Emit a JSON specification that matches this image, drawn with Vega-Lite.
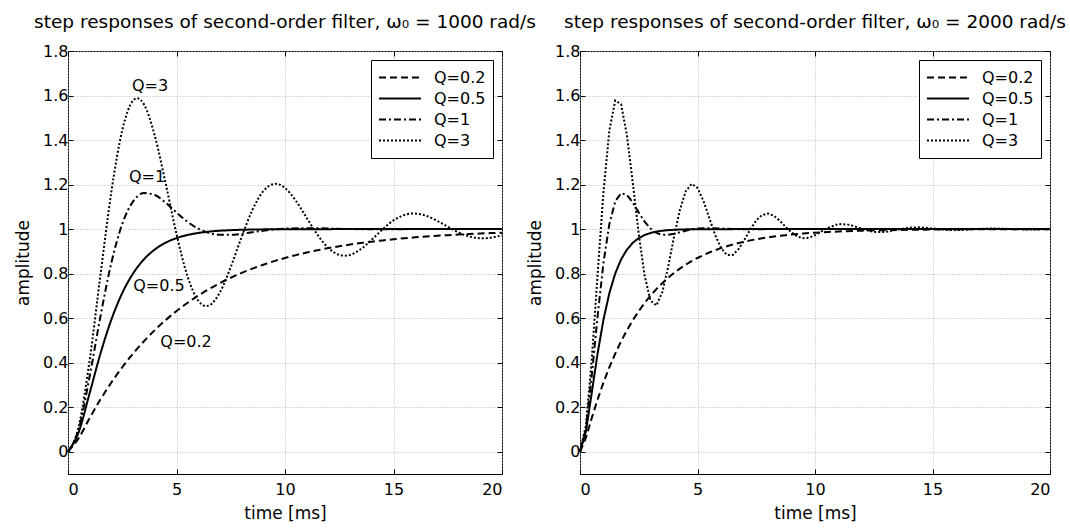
{
"$schema": "https://vega.github.io/schema/vega-lite/v6.json",
"padding": {"left": 14, "top": 12, "right": 2, "bottom": 0},
"spacing": 78,
"bounds": "flush",
"background": "white",
"config": {
  "font": "DejaVu Sans",
  "view": {"stroke": "black", "strokeWidth": 1},
  "axis": {"labelFont": "DejaVu Sans", "labelFontSize": 16, "labelColor": "black", "titleFont": "DejaVu Sans", "titleFontSize": 17, "titleFontWeight": "normal", "titleColor": "black", "domain": false, "tickColor": "black", "tickSize": -5, "gridColor": "#b4b4b4", "gridDash": [1, 2], "gridWidth": 1, "labelPadding": 5},
  "axisX": {"titlePadding": 8, "labelPadding": 12},
  "axisY": {"titlePadding": 10},
  "title": {"font": "DejaVu Sans", "fontSize": 18.5, "fontWeight": "normal", "color": "black", "frame": "group", "anchor": "middle", "offset": 12},
  "legend": {"orient": "top-right", "offset": 9, "strokeColor": "black", "fillColor": "white", "padding": 7, "symbolType": "stroke", "symbolSize": 1764, "symbolStrokeWidth": 2, "symbolStrokeColor": "black", "symbolFillColor": "transparent", "labelFont": "DejaVu Sans", "labelFontSize": 16, "labelColor": "black", "labelOffset": 12, "rowPadding": 0, "clipHeight": 21}
},
"datasets": {
  "left": [
    {"Q":"Q=0.2","t":0,"y":0},{"Q":"Q=0.2","t":0.5,"y":0.0622},{"Q":"Q=0.2","t":1,"y":0.1518},{"Q":"Q=0.2","t":1.5,"y":0.2355},{"Q":"Q=0.2","t":2,"y":0.3113},{"Q":"Q=0.2","t":2.5,"y":0.3795},{"Q":"Q=0.2","t":3,"y":0.4410},{"Q":"Q=0.2","t":3.5,"y":0.4964},{"Q":"Q=0.2","t":4,"y":0.5463},{"Q":"Q=0.2","t":4.5,"y":0.5913},{"Q":"Q=0.2","t":5,"y":0.6318},{"Q":"Q=0.2","t":5.5,"y":0.6683},{"Q":"Q=0.2","t":6,"y":0.7011},{"Q":"Q=0.2","t":6.5,"y":0.7307},{"Q":"Q=0.2","t":7,"y":0.7574},{"Q":"Q=0.2","t":7.5,"y":0.7815},{"Q":"Q=0.2","t":8,"y":0.8031},{"Q":"Q=0.2","t":8.5,"y":0.8226},{"Q":"Q=0.2","t":9,"y":0.8402},{"Q":"Q=0.2","t":9.5,"y":0.8560},{"Q":"Q=0.2","t":10,"y":0.8703},{"Q":"Q=0.2","t":10.5,"y":0.8832},{"Q":"Q=0.2","t":11,"y":0.8947},{"Q":"Q=0.2","t":11.5,"y":0.9052},{"Q":"Q=0.2","t":12,"y":0.9146},{"Q":"Q=0.2","t":12.5,"y":0.9230},{"Q":"Q=0.2","t":13,"y":0.9307},{"Q":"Q=0.2","t":13.5,"y":0.9375},{"Q":"Q=0.2","t":14,"y":0.9437},{"Q":"Q=0.2","t":14.5,"y":0.9493},{"Q":"Q=0.2","t":15,"y":0.9543},{"Q":"Q=0.2","t":15.5,"y":0.9588},{"Q":"Q=0.2","t":16,"y":0.9629},{"Q":"Q=0.2","t":16.5,"y":0.9666},{"Q":"Q=0.2","t":17,"y":0.9699},{"Q":"Q=0.2","t":17.5,"y":0.9729},{"Q":"Q=0.2","t":18,"y":0.9756},{"Q":"Q=0.2","t":18.5,"y":0.9780},{"Q":"Q=0.2","t":19,"y":0.9802},{"Q":"Q=0.2","t":19.5,"y":0.9821},{"Q":"Q=0.2","t":20,"y":0.9839},
    {"Q":"Q=0.5","t":0,"y":0},{"Q":"Q=0.5","t":0.5,"y":0.0902},{"Q":"Q=0.5","t":1,"y":0.2642},{"Q":"Q=0.5","t":1.5,"y":0.4422},{"Q":"Q=0.5","t":2,"y":0.5940},{"Q":"Q=0.5","t":2.5,"y":0.7127},{"Q":"Q=0.5","t":3,"y":0.8009},{"Q":"Q=0.5","t":3.5,"y":0.8641},{"Q":"Q=0.5","t":4,"y":0.9084},{"Q":"Q=0.5","t":4.5,"y":0.9389},{"Q":"Q=0.5","t":5,"y":0.9596},{"Q":"Q=0.5","t":5.5,"y":0.9734},{"Q":"Q=0.5","t":6,"y":0.9826},{"Q":"Q=0.5","t":6.5,"y":0.9887},{"Q":"Q=0.5","t":7,"y":0.9927},{"Q":"Q=0.5","t":7.5,"y":0.9953},{"Q":"Q=0.5","t":8,"y":0.9970},{"Q":"Q=0.5","t":8.5,"y":0.9981},{"Q":"Q=0.5","t":9,"y":0.9988},{"Q":"Q=0.5","t":10,"y":0.9995},{"Q":"Q=0.5","t":12,"y":0.9999},{"Q":"Q=0.5","t":15,"y":1},{"Q":"Q=0.5","t":20,"y":1},
    {"Q":"Q=1","t":0,"y":0},{"Q":"Q=1","t":0.5,"y":0.1044},{"Q":"Q=1","t":1,"y":0.3403},{"Q":"Q=1","t":1.5,"y":0.6105},{"Q":"Q=1","t":2,"y":0.8494},{"Q":"Q=1","t":2.5,"y":1.0234},{"Q":"Q=1","t":3,"y":1.1244},{"Q":"Q=1","t":3.5,"y":1.1617},{"Q":"Q=1","t":4,"y":1.1531},{"Q":"Q=1","t":4.5,"y":1.1184},{"Q":"Q=1","t":5,"y":1.0746},{"Q":"Q=1","t":5.5,"y":1.0336},{"Q":"Q=1","t":6,"y":1.0023},{"Q":"Q=1","t":6.5,"y":0.9828},{"Q":"Q=1","t":7,"y":0.9744},{"Q":"Q=1","t":7.5,"y":0.9742},{"Q":"Q=1","t":8,"y":0.9790},{"Q":"Q=1","t":8.5,"y":0.9860},{"Q":"Q=1","t":9,"y":0.9929},{"Q":"Q=1","t":9.5,"y":0.9985},{"Q":"Q=1","t":10,"y":1.0022},{"Q":"Q=1","t":11,"y":1.0043},{"Q":"Q=1","t":12,"y":1.0026},{"Q":"Q=1","t":13,"y":1.0004},{"Q":"Q=1","t":14,"y":0.9994},{"Q":"Q=1","t":15,"y":0.9996},{"Q":"Q=1","t":16,"y":1},{"Q":"Q=1","t":20,"y":1},
    {"Q":"Q=3","t":0,"y":0},{"Q":"Q=3","t":0.5,"y":0.1159},{"Q":"Q=3","t":1,"y":0.4134},{"Q":"Q=3","t":1.5,"y":0.7975},{"Q":"Q=3","t":2,"y":1.1683},{"Q":"Q=3","t":2.5,"y":1.4443},{"Q":"Q=3","t":3,"y":1.5776},{"Q":"Q=3","t":3.186,"y":1.5880},{"Q":"Q=3","t":3.5,"y":1.5603},{"Q":"Q=3","t":4,"y":1.4192},{"Q":"Q=3","t":4.5,"y":1.2053},{"Q":"Q=3","t":5,"y":0.9779},{"Q":"Q=3","t":5.5,"y":0.7904},{"Q":"Q=3","t":6,"y":0.6790},{"Q":"Q=3","t":6.372,"y":0.6542},{"Q":"Q=3","t":6.5,"y":0.6570},{"Q":"Q=3","t":7,"y":0.7158},{"Q":"Q=3","t":7.5,"y":0.8297},{"Q":"Q=3","t":8,"y":0.9645},{"Q":"Q=3","t":8.5,"y":1.0866},{"Q":"Q=3","t":9,"y":1.1704},{"Q":"Q=3","t":9.5,"y":1.2029},{"Q":"Q=3","t":9.559,"y":1.2033},{"Q":"Q=3","t":10,"y":1.1847},{"Q":"Q=3","t":10.5,"y":1.1276},{"Q":"Q=3","t":11,"y":1.0505},{"Q":"Q=3","t":11.5,"y":0.9739},{"Q":"Q=3","t":12,"y":0.9149},{"Q":"Q=3","t":12.5,"y":0.8841},{"Q":"Q=3","t":12.745,"y":0.8805},{"Q":"Q=3","t":13,"y":0.8842},{"Q":"Q=3","t":13.5,"y":0.9104},{"Q":"Q=3","t":14,"y":0.9528},{"Q":"Q=3","t":14.5,"y":0.9993},{"Q":"Q=3","t":15,"y":1.0389},{"Q":"Q=3","t":15.5,"y":1.0636},{"Q":"Q=3","t":15.931,"y":1.0703},{"Q":"Q=3","t":16,"y":1.0701},{"Q":"Q=3","t":16.5,"y":1.0599},{"Q":"Q=3","t":17,"y":1.0377},{"Q":"Q=3","t":17.5,"y":1.0104},{"Q":"Q=3","t":18,"y":0.9850},{"Q":"Q=3","t":18.5,"y":0.9668},{"Q":"Q=3","t":19,"y":0.9590},{"Q":"Q=3","t":19.117,"y":0.9587},{"Q":"Q=3","t":19.5,"y":0.9615},{"Q":"Q=3","t":20,"y":0.9724}
  ],
  "right": [
    {"Q":"Q=0.2","t":0,"y":0},{"Q":"Q=0.2","t":0.25,"y":0.0622},{"Q":"Q=0.2","t":0.5,"y":0.1518},{"Q":"Q=0.2","t":0.75,"y":0.2355},{"Q":"Q=0.2","t":1,"y":0.3113},{"Q":"Q=0.2","t":1.25,"y":0.3795},{"Q":"Q=0.2","t":1.5,"y":0.4410},{"Q":"Q=0.2","t":1.75,"y":0.4964},{"Q":"Q=0.2","t":2,"y":0.5463},{"Q":"Q=0.2","t":2.25,"y":0.5913},{"Q":"Q=0.2","t":2.5,"y":0.6318},{"Q":"Q=0.2","t":2.75,"y":0.6683},{"Q":"Q=0.2","t":3,"y":0.7011},{"Q":"Q=0.2","t":3.25,"y":0.7307},{"Q":"Q=0.2","t":3.5,"y":0.7574},{"Q":"Q=0.2","t":3.75,"y":0.7815},{"Q":"Q=0.2","t":4,"y":0.8031},{"Q":"Q=0.2","t":4.25,"y":0.8226},{"Q":"Q=0.2","t":4.5,"y":0.8402},{"Q":"Q=0.2","t":4.75,"y":0.8560},{"Q":"Q=0.2","t":5,"y":0.8703},{"Q":"Q=0.2","t":5.25,"y":0.8832},{"Q":"Q=0.2","t":5.5,"y":0.8947},{"Q":"Q=0.2","t":5.75,"y":0.9052},{"Q":"Q=0.2","t":6,"y":0.9146},{"Q":"Q=0.2","t":6.25,"y":0.9230},{"Q":"Q=0.2","t":6.5,"y":0.9307},{"Q":"Q=0.2","t":6.75,"y":0.9375},{"Q":"Q=0.2","t":7,"y":0.9437},{"Q":"Q=0.2","t":7.25,"y":0.9493},{"Q":"Q=0.2","t":7.5,"y":0.9543},{"Q":"Q=0.2","t":7.75,"y":0.9588},{"Q":"Q=0.2","t":8,"y":0.9629},{"Q":"Q=0.2","t":8.25,"y":0.9666},{"Q":"Q=0.2","t":8.5,"y":0.9699},{"Q":"Q=0.2","t":8.75,"y":0.9729},{"Q":"Q=0.2","t":9,"y":0.9756},{"Q":"Q=0.2","t":9.25,"y":0.9780},{"Q":"Q=0.2","t":9.5,"y":0.9802},{"Q":"Q=0.2","t":9.75,"y":0.9821},{"Q":"Q=0.2","t":10,"y":0.9839},{"Q":"Q=0.2","t":11,"y":0.9894},{"Q":"Q=0.2","t":12,"y":0.9930},{"Q":"Q=0.2","t":13,"y":0.9954},{"Q":"Q=0.2","t":14,"y":0.9970},{"Q":"Q=0.2","t":15,"y":0.9980},{"Q":"Q=0.2","t":16,"y":0.9987},{"Q":"Q=0.2","t":17,"y":0.9991},{"Q":"Q=0.2","t":18,"y":0.9994},{"Q":"Q=0.2","t":19,"y":0.9996},{"Q":"Q=0.2","t":20,"y":0.9998},
    {"Q":"Q=0.5","t":0,"y":0},{"Q":"Q=0.5","t":0.25,"y":0.0902},{"Q":"Q=0.5","t":0.5,"y":0.2642},{"Q":"Q=0.5","t":0.75,"y":0.4422},{"Q":"Q=0.5","t":1,"y":0.5940},{"Q":"Q=0.5","t":1.25,"y":0.7127},{"Q":"Q=0.5","t":1.5,"y":0.8009},{"Q":"Q=0.5","t":1.75,"y":0.8641},{"Q":"Q=0.5","t":2,"y":0.9084},{"Q":"Q=0.5","t":2.25,"y":0.9389},{"Q":"Q=0.5","t":2.5,"y":0.9596},{"Q":"Q=0.5","t":2.75,"y":0.9734},{"Q":"Q=0.5","t":3,"y":0.9826},{"Q":"Q=0.5","t":3.25,"y":0.9887},{"Q":"Q=0.5","t":3.5,"y":0.9927},{"Q":"Q=0.5","t":3.75,"y":0.9953},{"Q":"Q=0.5","t":4,"y":0.9970},{"Q":"Q=0.5","t":4.25,"y":0.9981},{"Q":"Q=0.5","t":4.5,"y":0.9988},{"Q":"Q=0.5","t":4.75,"y":0.9992},{"Q":"Q=0.5","t":5,"y":0.9995},{"Q":"Q=0.5","t":6,"y":0.9999},{"Q":"Q=0.5","t":10,"y":1},{"Q":"Q=0.5","t":20,"y":1},
    {"Q":"Q=1","t":0,"y":0},{"Q":"Q=1","t":0.25,"y":0.1044},{"Q":"Q=1","t":0.5,"y":0.3403},{"Q":"Q=1","t":0.75,"y":0.6105},{"Q":"Q=1","t":1,"y":0.8494},{"Q":"Q=1","t":1.25,"y":1.0234},{"Q":"Q=1","t":1.5,"y":1.1244},{"Q":"Q=1","t":1.75,"y":1.1617},{"Q":"Q=1","t":2,"y":1.1531},{"Q":"Q=1","t":2.25,"y":1.1184},{"Q":"Q=1","t":2.5,"y":1.0746},{"Q":"Q=1","t":2.75,"y":1.0336},{"Q":"Q=1","t":3,"y":1.0023},{"Q":"Q=1","t":3.25,"y":0.9828},{"Q":"Q=1","t":3.5,"y":0.9744},{"Q":"Q=1","t":3.75,"y":0.9742},{"Q":"Q=1","t":4,"y":0.9790},{"Q":"Q=1","t":4.25,"y":0.9860},{"Q":"Q=1","t":4.5,"y":0.9929},{"Q":"Q=1","t":4.75,"y":0.9985},{"Q":"Q=1","t":5,"y":1.0022},{"Q":"Q=1","t":5.5,"y":1.0043},{"Q":"Q=1","t":6,"y":1.0026},{"Q":"Q=1","t":6.5,"y":1.0004},{"Q":"Q=1","t":7,"y":0.9994},{"Q":"Q=1","t":7.5,"y":0.9996},{"Q":"Q=1","t":8,"y":1},{"Q":"Q=1","t":20,"y":1},
    {"Q":"Q=3","t":0,"y":0},{"Q":"Q=3","t":0.25,"y":0.1159},{"Q":"Q=3","t":0.5,"y":0.4134},{"Q":"Q=3","t":0.75,"y":0.7975},{"Q":"Q=3","t":1,"y":1.1683},{"Q":"Q=3","t":1.25,"y":1.4443},{"Q":"Q=3","t":1.5,"y":1.5776},{"Q":"Q=3","t":1.75,"y":1.5603},{"Q":"Q=3","t":2,"y":1.4192},{"Q":"Q=3","t":2.25,"y":1.2053},{"Q":"Q=3","t":2.5,"y":0.9779},{"Q":"Q=3","t":2.75,"y":0.7904},{"Q":"Q=3","t":3,"y":0.6790},{"Q":"Q=3","t":3.25,"y":0.6570},{"Q":"Q=3","t":3.5,"y":0.7158},{"Q":"Q=3","t":3.75,"y":0.8297},{"Q":"Q=3","t":4,"y":0.9645},{"Q":"Q=3","t":4.25,"y":1.0866},{"Q":"Q=3","t":4.5,"y":1.1704},{"Q":"Q=3","t":4.75,"y":1.2029},{"Q":"Q=3","t":5,"y":1.1847},{"Q":"Q=3","t":5.25,"y":1.1276},{"Q":"Q=3","t":5.5,"y":1.0505},{"Q":"Q=3","t":5.75,"y":0.9739},{"Q":"Q=3","t":6,"y":0.9149},{"Q":"Q=3","t":6.25,"y":0.8841},{"Q":"Q=3","t":6.5,"y":0.8842},{"Q":"Q=3","t":6.75,"y":0.9104},{"Q":"Q=3","t":7,"y":0.9528},{"Q":"Q=3","t":7.25,"y":0.9993},{"Q":"Q=3","t":7.5,"y":1.0389},{"Q":"Q=3","t":7.75,"y":1.0636},{"Q":"Q=3","t":8,"y":1.0701},{"Q":"Q=3","t":8.25,"y":1.0599},{"Q":"Q=3","t":8.5,"y":1.0377},{"Q":"Q=3","t":8.75,"y":1.0104},{"Q":"Q=3","t":9,"y":0.9850},{"Q":"Q=3","t":9.25,"y":0.9668},{"Q":"Q=3","t":9.5,"y":0.9590},{"Q":"Q=3","t":9.75,"y":0.9615},{"Q":"Q=3","t":10,"y":0.9724},{"Q":"Q=3","t":10.5,"y":1.0036},{"Q":"Q=3","t":11,"y":1.0232},{"Q":"Q=3","t":11.5,"y":1.0191},{"Q":"Q=3","t":12,"y":1.0012},{"Q":"Q=3","t":12.5,"y":0.9875},{"Q":"Q=3","t":13,"y":0.9874},{"Q":"Q=3","t":13.5,"y":0.9972},{"Q":"Q=3","t":14,"y":1.0064},{"Q":"Q=3","t":14.5,"y":1.0080},{"Q":"Q=3","t":15,"y":1.0029},{"Q":"Q=3","t":15.5,"y":0.9970},{"Q":"Q=3","t":16,"y":0.9951},{"Q":"Q=3","t":16.5,"y":0.9976},{"Q":"Q=3","t":17,"y":1.0013},{"Q":"Q=3","t":17.5,"y":1.0029},{"Q":"Q=3","t":18,"y":1.0018},{"Q":"Q=3","t":18.5,"y":0.9996},{"Q":"Q=3","t":19,"y":0.9983},{"Q":"Q=3","t":19.5,"y":0.9987},{"Q":"Q=3","t":20,"y":1.0000}
  ],
  "labels": [
    {"t":3.78,"y":1.643,"label":"Q=3"},{"t":3.64,"y":1.234,"label":"Q=1"},{"t":4.19,"y":0.744,"label":"Q=0.5"},{"t":5.44,"y":0.493,"label":"Q=0.2"}
  ]
},
"resolve": {"scale": {"strokeDash": "independent"}, "legend": {"strokeDash": "independent"}},
"hconcat": [
  {
    "width": 434, "height": 423,
    "title": "step responses of second-order filter, ω₀ = 1000 rad/s",
    "resolve": {"axis": {"x": "independent", "y": "independent"}},
    "layer": [
      {
        "data": {"name": "left"},
        "mark": {"type": "line", "strokeWidth": 2, "color": "black", "interpolate": "monotone"},
        "encoding": {
          "x": {"field": "t", "type": "quantitative", "scale": {"domain": [0, 20], "nice": false}, "axis": {"title": "time [ms]", "values": [0, 5, 10, 15, 20], "format": "~g"}},
          "y": {"field": "y", "type": "quantitative", "scale": {"domain": [-0.1, 1.8], "nice": false, "zero": false}, "axis": {"title": "amplitude", "values": [0, 0.2, 0.4, 0.6, 0.8, 1, 1.2, 1.4, 1.6, 1.8], "format": "~g"}},
          "strokeDash": {"field": "Q", "type": "nominal", "scale": {"domain": ["Q=0.2", "Q=0.5", "Q=1", "Q=3"], "range": [[7, 4], [1, 0], [7, 3, 2, 3], [2, 2]]}, "legend": {"title": null}}
        }
      },
      {
        "data": {"name": "labels"},
        "mark": {"type": "text", "fontSize": 16, "font": "DejaVu Sans", "color": "black", "align": "center", "baseline": "middle"},
        "encoding": {
          "x": {"field": "t", "type": "quantitative", "axis": {"orient": "top", "labels": false, "title": null, "grid": false, "values": [0, 5, 10, 15, 20]}},
          "y": {"field": "y", "type": "quantitative", "axis": {"orient": "right", "labels": false, "title": null, "grid": false, "values": [0, 0.2, 0.4, 0.6, 0.8, 1, 1.2, 1.4, 1.6, 1.8]}},
          "text": {"field": "label"}
        }
      }
    ]
  },
  {
    "width": 470, "height": 423,
    "title": "step responses of second-order filter, ω₀ = 2000 rad/s",
    "data": {"name": "right"},
    "resolve": {"axis": {"x": "independent", "y": "independent"}},
    "layer": [
      {
        "mark": {"type": "line", "strokeWidth": 2, "color": "black"},
        "encoding": {
          "x": {"field": "t", "type": "quantitative", "scale": {"domain": [0, 20], "nice": false}, "axis": {"title": "time [ms]", "values": [0, 5, 10, 15, 20], "format": "~g"}},
          "y": {"field": "y", "type": "quantitative", "scale": {"domain": [-0.1, 1.8], "nice": false, "zero": false}, "axis": {"title": "amplitude", "values": [0, 0.2, 0.4, 0.6, 0.8, 1, 1.2, 1.4, 1.6, 1.8], "format": "~g"}},
          "strokeDash": {"field": "Q", "type": "nominal", "scale": {"domain": ["Q=0.2", "Q=0.5", "Q=1", "Q=3"], "range": [[7, 4], [1, 0], [7, 3, 2, 3], [2, 2]]}, "legend": {"title": null}}
        }
      },
      {
        "mark": {"type": "point", "opacity": 0},
        "encoding": {
          "x": {"field": "t", "type": "quantitative", "axis": {"orient": "top", "labels": false, "title": null, "grid": false, "values": [0, 5, 10, 15, 20]}},
          "y": {"field": "y", "type": "quantitative", "axis": {"orient": "right", "labels": false, "title": null, "grid": false, "values": [0, 0.2, 0.4, 0.6, 0.8, 1, 1.2, 1.4, 1.6, 1.8]}}
        }
      }
    ]
  }
]
}
